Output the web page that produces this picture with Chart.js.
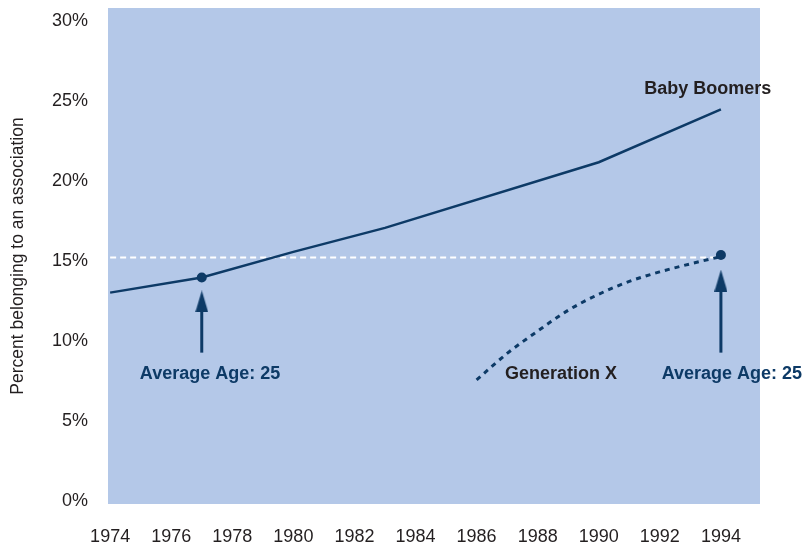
<!DOCTYPE html>
<html>
<head>
<meta charset="utf-8">
<script src="https://cdn.jsdelivr.net/npm/chart.js@4.4.0/dist/chart.umd.min.js"></script>
<style>
  html, body { margin: 0; padding: 0; background: #fff; }
</style>
</head>
<body>
<canvas id="myChart" width="805" height="547"></canvas>
<script>
// data (percent belonging to an association)
const xTicks = [1974, 1976, 1978, 1980, 1982, 1984, 1986, 1988, 1990, 1992, 1994];
const yTicks = [0, 5, 10, 15, 20, 25, 30];

const bbYears = [1974, 1977, 1980, 1983, 1990, 1994];
const bbValues = [13.05, 14.0, 15.6, 17.1, 21.2, 24.5];

const genXYears = [1986, 1987, 1988, 1989, 1990, 1991, 1992, 1993, 1994];
const genXValues = [7.6, 9.25, 10.65, 11.95, 12.95, 13.75, 14.35, 14.85, 15.3];

const refYears = [1974, 1994];
const refValues = [15.25, 15.25];

const markerYears = [1977, 1994];
const markerValues = [14.0, 15.4];

const arrowYears = [1977, 1994];
const arrowBase = [9.3, 9.3];
const arrowHead = [12.5, 13.8];

const noteTexts = ['Baby Boomers', 'Average Age: 25', 'Generation X', 'Average Age: 25'];
const noteYears = [1993.57, 1977.27, 1988.76, 1994.36];
const noteValues = [25.78, 7.97, 7.97, 7.97];

const NAVY = '#0d3a66';
const INK = '#231f20';
const FONT = '"Liberation Sans", Arial, sans-serif';

function pts(xs, ys) {
  return xs.map((x, i) => ({x: x, y: ys[i]}));
}

// arrow head as a point image
const head = document.createElement('canvas');
head.width = 13;
head.height = 22;
const hc = head.getContext('2d');
hc.fillStyle = NAVY;
hc.beginPath();
hc.moveTo(6.5, 0);
hc.lineTo(13, 22);
hc.lineTo(0, 22);
hc.closePath();
hc.fill();

const arrowSets = arrowYears.map((yr, i) => ({
  data: pts([yr, yr], [arrowBase[i], arrowHead[i]]),
  borderColor: NAVY,
  borderWidth: 3,
  pointStyle: c => c.dataIndex === 1 ? head : false,
  pointRadius: c => c.dataIndex === 1 ? 6 : 0,
  tension: 0,
}));

const panel = {
  id: 'panel',
  beforeDraw(chart) {
    const {ctx, chartArea: a} = chart;
    ctx.save();
    ctx.fillStyle = '#b4c8e8';
    ctx.fillRect(a.left, a.top, a.right - a.left, a.bottom - a.top);
    ctx.restore();
  },
  afterDatasetsDraw(chart) {
    const {ctx, scales} = chart;
    ctx.save();
    ctx.font = 'bold 18px ' + FONT;
    ctx.textAlign = 'center';
    ctx.textBaseline = 'middle';
    noteTexts.forEach((t, i) => {
      ctx.fillStyle = t.indexOf('Average') === 0 ? NAVY : INK;
      ctx.fillText(t, scales.x.getPixelForValue(noteYears[i]), scales.y.getPixelForValue(noteValues[i]));
    });
    ctx.restore();
  }
};

const data = {
  datasets: [{
    label: 'markers',
    data: pts(markerYears, markerValues),
    showLine: false,
    pointRadius: 5,
    backgroundColor: NAVY,
    borderColor: NAVY,
    borderWidth: 0,
  }, {
    label: 'Baby Boomers',
    data: pts(bbYears, bbValues),
    borderColor: NAVY,
    borderWidth: 2.5,
    pointRadius: 0,
    tension: 0,
  },
  ...arrowSets,
  {
    label: 'Generation X',
    data: pts(genXYears, genXValues),
    borderColor: NAVY,
    borderWidth: 3,
    borderDash: [5, 5],
    pointRadius: 0,
    cubicInterpolationMode: 'monotone',
  }, {
    label: 'ref',
    data: pts(refYears, refValues),
    borderColor: '#ffffff',
    borderWidth: 2,
    borderDash: [6, 4],
    pointRadius: 0,
  }]
};

const config = {
  type: 'line',
  data,
  plugins: [panel],
  options: {
    responsive: false,
    animation: false,
    layout: { padding: { top: 8, right: 45, left: 0, bottom: 0 }, autoPadding: false },
    plugins: {
      legend: { display: false },
      tooltip: { enabled: false },
    },
    scales: {
      x: {
        type: 'linear',
        min: 1973.93,
        max: 1995.28,
        afterBuildTicks: s => { s.ticks = xTicks.map(v => ({value: v})); },
        afterFit: s => { s.height = 43; },
        grid: { display: false, drawTicks: false },
        border: { display: false },
        ticks: {
          padding: 22,
          color: INK,
          font: { family: FONT, size: 18 },
          maxRotation: 0,
          callback: v => String(v),
        }
      },
      y: {
        min: -0.16,
        max: 30.84,
        afterBuildTicks: s => { s.ticks = yTicks.map(v => ({value: v})); },
        afterFit: s => { s.width = 108; s.paddingTop = 0; s.paddingBottom = 0; },
        grid: { display: false, drawTicks: false },
        border: { display: false },
        ticks: {
          padding: 20,
          color: INK,
          font: { family: FONT, size: 18 },
          callback: v => v + '%',
        },
        title: {
          display: true,
          text: 'Percent belonging to an association',
          color: INK,
          font: { family: FONT, size: 17.5 },
          padding: { top: 8, bottom: 0 },
        }
      }
    }
  }
};

const myChart = new Chart(document.getElementById('myChart'), config);
</script>
</body>
</html>
